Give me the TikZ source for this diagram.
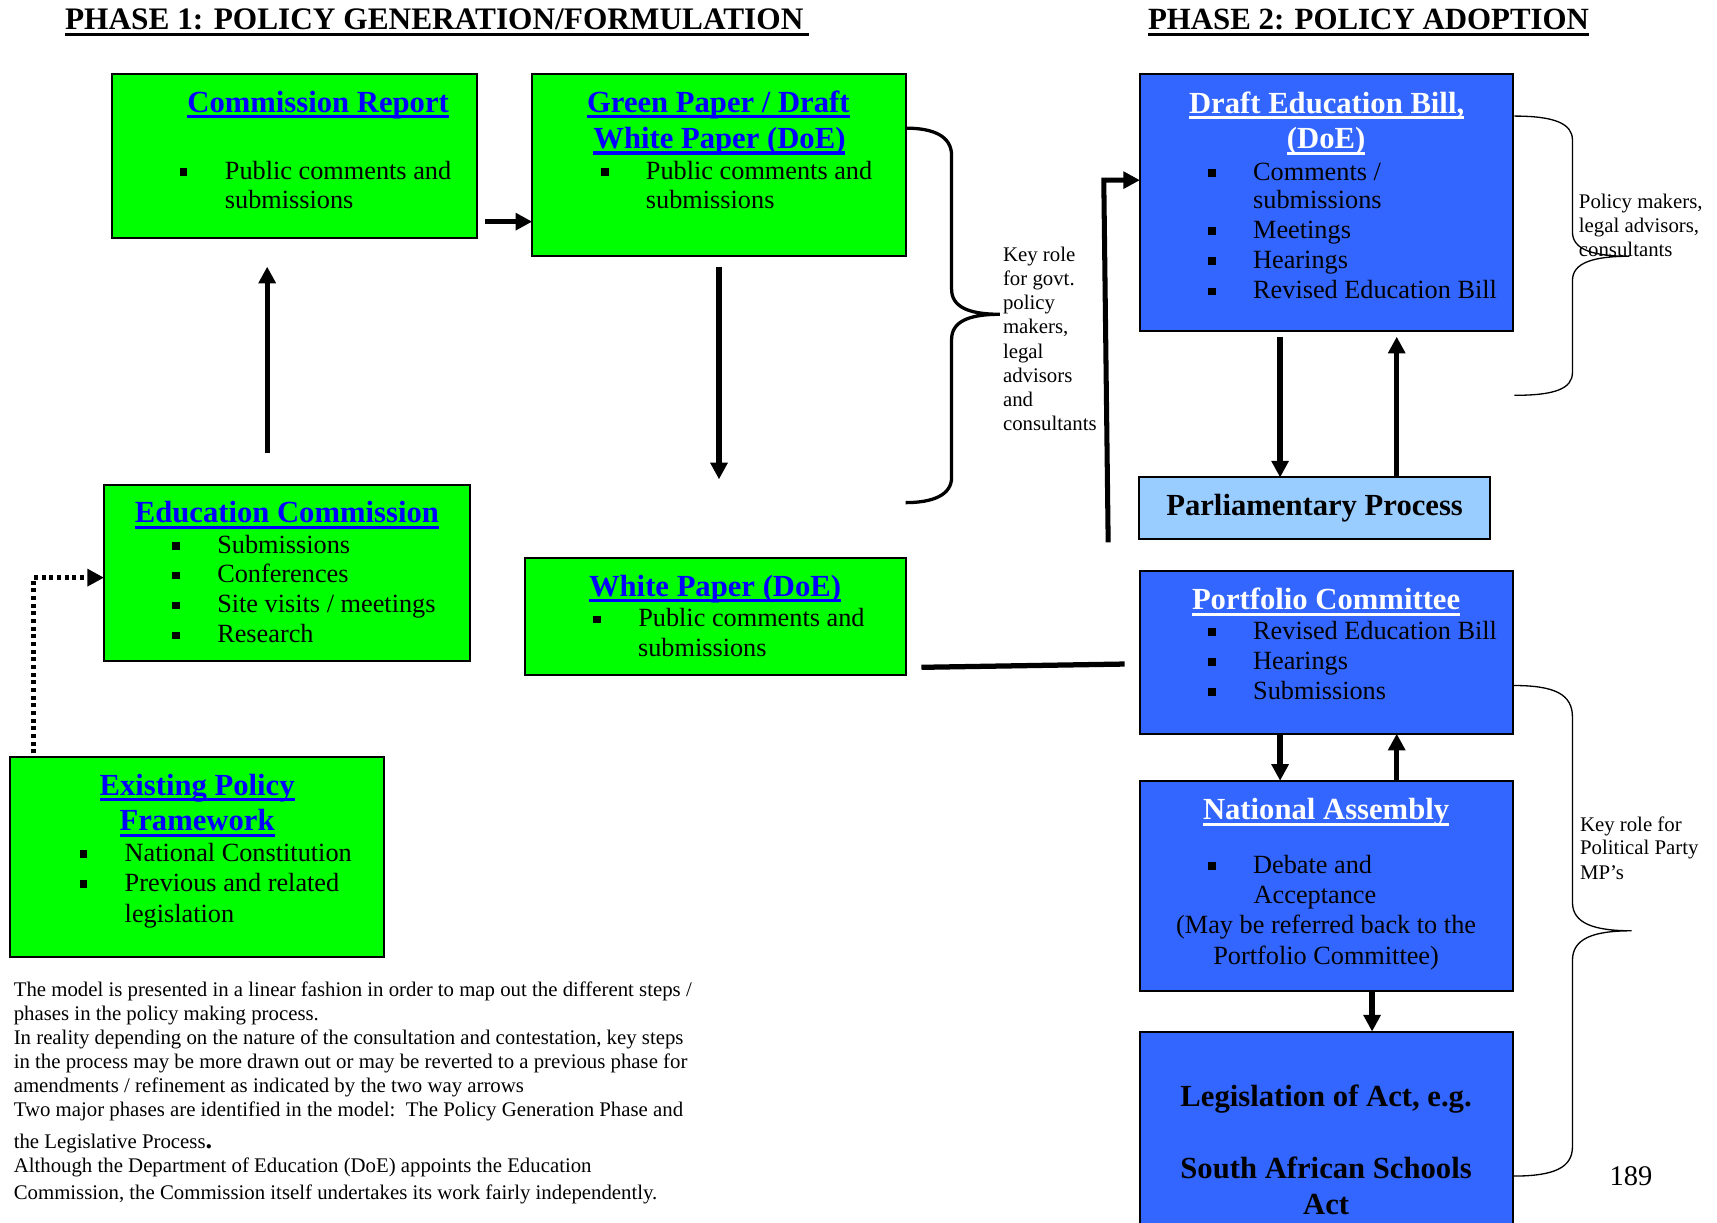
\documentclass[tikz,border=0pt]{standalone}
\usepackage{fontspec}
\setmainfont{Liberation Serif}
\usetikzlibrary{arrows.meta,calc}
\definecolor{grn}{HTML}{00FF00}
\definecolor{blu}{HTML}{3366FF}
\definecolor{lblu}{HTML}{99CCFF}
\definecolor{tblue}{HTML}{0000FF}
\newcommand\myul[1]{\setbox0\hbox{#1}\rlap{\rule[-2.8pt]{\wd0}{1.4pt}}\box0}
\newcommand\bul{\rule[1.6pt]{3.4pt}{3.4pt}}
\newcommand\bitem[4]{\node[body] (#1) at (#2,#3) {\makebox[20.5pt][l]{\bul}#4};}
\begin{document}
\begin{tikzpicture}[x=0.5pt,y=-0.5pt,
  box/.style={draw=black,line width=0.9pt,inner sep=0pt,outer sep=0pt},
  gbox/.style={box,fill=grn},
  bbox/.style={box,fill=blu},
  gttl/.style={font=\fontsize{14}{16}\selectfont\bfseries,text=tblue,anchor=base,inner sep=0pt},
  bttl/.style={gttl,text=white},
  body/.style={font=\fontsize{12}{14}\selectfont,anchor=base west,inner sep=0pt},
  small/.style={font=\fontsize{9.5}{11}\selectfont,anchor=base west,inner sep=0pt},
  phase/.style={font=\fontsize{14.3}{16}\selectfont\bfseries,anchor=base west,inner sep=0pt},
  arr/.style={line width=2.4pt,-{Triangle[length=7.6pt,width=7.6pt]}},
  plain/.style={line width=2.4pt},
  brace/.style={line width=1.5pt},
  tbrace/.style={line width=0.6pt},
]
\useasboundingbox (0,0) rectangle (1568,1116);

% phase titles
\node[phase] (ph1) at (59,27) {\myul{PHASE 1: POLICY GENERATION/FORMULATION\hspace{2.5pt}}};
\node[phase,font=\fontsize{14.1}{16}\selectfont\bfseries] (ph2) at (1048,27) {\myul{PHASE 2: POLICY ADOPTION}};

% boxes
\node[gbox,minimum width=167pt,minimum height=74.5pt] (cr) at (269,142.5) {};
\node[gbox,minimum width=170.5pt,minimum height=83pt] (gp) at (656.5,151) {};
\node[gbox,minimum width=167pt,minimum height=80.5pt] (ec) at (262,523.5) {};
\node[gbox,minimum width=174pt,minimum height=53pt] (wp) at (653,563) {};
\node[gbox,minimum width=171pt,minimum height=91.5pt] (ep) at (180,782.5) {};
\node[bbox,minimum width=170.5pt,minimum height=117pt] (db) at (1211.5,185) {};
\node[box,fill=lblu,minimum width=160pt,minimum height=28pt] (pp) at (1200.5,464) {};
\node[bbox,minimum width=170.5pt,minimum height=74.5pt] (pc) at (1211.5,595.5) {};
\node[bbox,minimum width=170.5pt,minimum height=96pt] (na) at (1211.5,809) {};
\node[bbox,minimum width=170.5pt,minimum height=94pt] (lg) at (1211.5,1036) {};

% Commission Report
\node[gttl] (crt) at (290.5,102.5) {\myul{Commission Report}};
\bitem{cr1}{164}{163.5}{Public comments and}
\node[body] (cr2) at (205,190) {submissions};

% Green Paper
\node[gttl] (gpt1) at (656,102.5) {\myul{Green Paper / Draft}};
\node[gttl] (gpt2) at (657,135.5) {\myul{White Paper (DoE)}};
\bitem{gp1}{548.5}{163.5}{Public comments and}
\node[body] (gp2) at (589.5,190) {submissions};

% Education Commission
\node[gttl] (ect) at (262,477.3) {\myul{Education Commission}};
\bitem{ec1}{157}{505}{Submissions}
\bitem{ec2}{157}{532}{Conferences}
\bitem{ec3}{157}{559.5}{Site visits / meetings}
\bitem{ec4}{157}{587}{Research}

% White Paper
\node[gttl] (wpt) at (653,544.3) {\myul{White Paper (DoE)}};
\bitem{wp1}{541.5}{572.3}{Public comments and}
\node[body] (wp2) at (582.3,599.7) {submissions};

% Existing Policy Framework
\node[gttl] (ept1) at (180,726) {\myul{Existing Policy}};
\node[gttl] (ept2) at (180,758.5) {\myul{Framework}};
\bitem{ep1}{72.5}{786.3}{National Constitution}
\bitem{ep2}{72.5}{813.7}{Previous and related}
\node[body] (ep3) at (113.5,842.3) {legislation};

% Draft Education Bill
\node[bttl] (dbt1) at (1211.5,103.5) {\myul{Draft Education Bill,}};
\node[bttl] (dbt2) at (1211,136) {\myul{(DoE)}};
\bitem{db1}{1103}{164.4}{Comments /}
\node[body] (db2) at (1144,190.8) {submissions};
\bitem{db3}{1103}{217.6}{Meetings}
\bitem{db4}{1103}{245}{Hearings}
\bitem{db5}{1103}{273}{Revised Education Bill}

% Parliamentary Process
\node[gttl,text=black] (ppt) at (1200.5,470.3) {Parliamentary Process};

% Portfolio Committee
\node[bttl] (pct) at (1211,557) {\myul{Portfolio Committee}};
\bitem{pc1}{1103}{583.9}{Revised Education Bill}
\bitem{pc2}{1103}{611.3}{Hearings}
\bitem{pc3}{1103}{638.7}{Submissions}

% National Assembly
\node[bttl] (nat) at (1211,748.5) {\myul{National Assembly}};
\bitem{na1}{1103}{797.5}{Debate and}
\node[body] (na2) at (1144.5,825.5) {Acceptance};
\node[body,anchor=base] (na3) at (1211,852.5) {(May be referred back to the};
\node[body,anchor=base] (na4) at (1211,880.5) {Portfolio Committee)};

% Legislation
\node[gttl,text=black] (lg1) at (1211,1010.5) {Legislation of Act, e.g.};
\node[gttl,text=black] (lg2) at (1211,1076.5) {South African Schools};
\node[gttl,text=black] (lg3) at (1211,1109.5) {Act};

% arrows
\draw[arr] ($(cr.east |- 0,202.4)+(7,0)$) -- (gp.west |- 0,202.4);
\draw[arr] ($(ec.north -| 244,0)+(0,-29)$) -- ($(cr.south -| 244,0)+(0,26.5)$);
\draw[arr] ($(gp.south -| 656.6,0)+(0,9.5)$) -- ($(wp.north -| 656.6,0)+(0,-72.3)$);
\draw[arr,line width=2.6pt,dash pattern=on 1.8pt off 1.7pt]
  ($(ep.north -| 30.5,0)+(0,-3)$) |- (ec.west |- 0,527.5);
\draw[plain] ($(wp.east |- 0,609.4)+(14.5,0)$) -- ($(pc.west |- 0,606.4)+(-14,0)$);
\coordinate (vs) at (1012,495.3);
\draw[arr,line width=2.3pt] (vs) -- (1008,164.5) -- (db.west |- 0,164.5);
\draw[arr] ($(db.south -| 1169,0)+(0,5.5)$) -- (pp.north -| 1169,0);
\draw[arr] (pp.north -| 1275.5,0) -- ($(db.south -| 1275.5,0)+(0,5.5)$);
\draw[arr] (pc.south -| 1169,0) -- (na.north -| 1169,0);
\draw[arr] (na.north -| 1275.5,0) -- (pc.south -| 1275.5,0);
\draw[arr] (na.south -| 1253,0) -- (lg.north -| 1253,0);

% braces
\draw[brace] (827,117) .. controls (852,117) and (869,124) .. (869,142) -- (869,264)
  .. controls (869,280) and (884,287) .. (913,287)
  .. controls (884,287) and (869,294) .. (869,310) -- (869,436)
  .. controls (869,452) and (852,459) .. (827,459);
\draw[tbrace] (1383,106) .. controls (1420,106) and (1436,113) .. (1436,128) -- (1436,212)
  .. controls (1436,228) and (1455,234) .. (1488,234)
  .. controls (1455,234) and (1436,240) .. (1436,256) -- (1436,340)
  .. controls (1436,355) and (1420,361) .. (1383,361);
\draw[tbrace] (1382,626) .. controls (1420,626) and (1436,634) .. (1436,655) -- (1436,824)
  .. controls (1436,843) and (1455,850) .. (1490,850)
  .. controls (1455,850) and (1436,857) .. (1436,877) -- (1436,1047)
  .. controls (1436,1066) and (1420,1074) .. (1382,1074);

% side labels
\node[small] (k1) at (915.6,239) {Key role};
\node[small] (k2) at (915.6,261) {for govt.};
\node[small] (k3) at (915.6,283) {policy};
\node[small] (k4) at (915.6,305) {makers,};
\node[small] (k5) at (915.6,327) {legal};
\node[small] (k6) at (915.6,349) {advisors};
\node[small] (k7) at (915.6,371) {and};
\node[small] (k8) at (915.6,393) {consultants};

\node[small] (p1) at (1441.5,190.3) {Policy makers,};
\node[small] (p2) at (1441.5,212.2) {legal advisors,};
\node[small] (p3) at (1441.5,234.4) {consultants};

\node[small] (m1) at (1442.5,759) {Key role for};
\node[small] (m2) at (1442.5,780.6) {Political Party};
\node[small] (m3) at (1442.5,803.3) {MP’s};

\node[font=\fontsize{13}{15}\selectfont,anchor=base,inner sep=0pt] (pg) at (1489.5,1083) {189};

% bottom paragraph
\node[small] (b1) at (12.2,909.6) {The model is presented in a linear fashion in order to map out the different steps /};
\node[small] (b2) at (12.2,931.5) {phases in the policy making process.};
\node[small] (b3) at (12.2,953.5) {In reality depending on the nature of the consultation and contestation, key steps};
\node[small] (b4) at (12.2,975.5) {in the process may be more drawn out or may be reverted to a previous phase for};
\node[small] (b5) at (12.2,997.5) {amendments / refinement as indicated by the two way arrows};
\node[small] (b6) at (12.2,1019.5) {Two major phases are identified in the model:\ \ The Policy Generation Phase and};
\node[small] (b7) at (12.2,1048.5) {the Legislative Process\textbf{\large .}};
\node[small] (b8) at (12.2,1071) {Although the Department of Education (DoE) appoints the Education};
\node[small] (b9) at (12.2,1095) {Commission, the Commission itself undertakes its work fairly independently.};
\end{tikzpicture}
\end{document}
